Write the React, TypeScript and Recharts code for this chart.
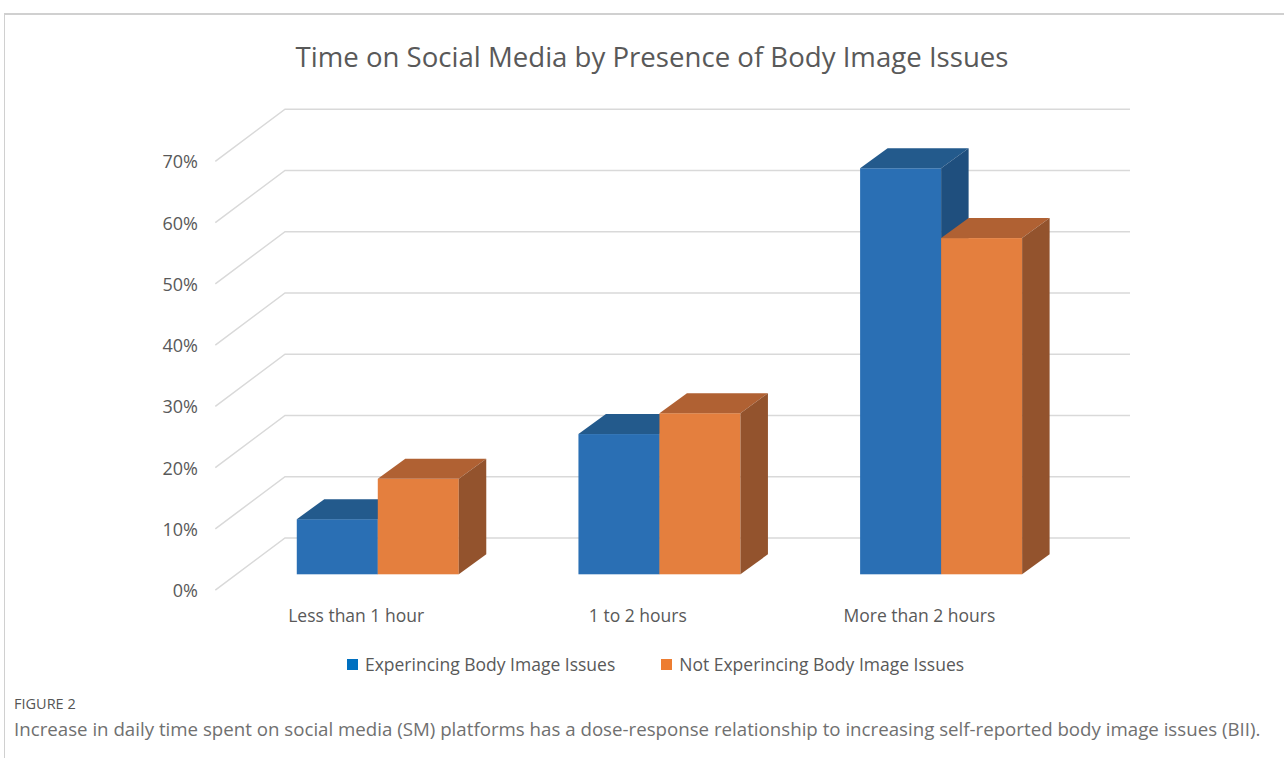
import React from 'react';
import { BarChart, Bar, XAxis, YAxis, CartesianGrid, Legend } from 'recharts';

const categories = ['Less than 1 hour', '1 to 2 hours', 'More than 2 hours'];
const experiencing = [9, 22.9, 66.3];
const notExperiencing = [15.6, 26.3, 54.9];
const yTicks = [0, 10, 20, 30, 40, 50, 60, 70];

const data = categories.map((category, i) => ({
  category,
  experiencing: experiencing[i],
  notExperiencing: notExperiencing[i],
}));

// plot area = the plane of the bar fronts
const W = 1284;
const H = 758;
const PLOT_LEFT = 236.5;
const PLOT_RIGHT = 1081.5;
const PLOT_TOP = 145.6;
const PLOT_BOTTOM = 574.3;
const AXIS_SIZE = 1;

// pseudo-3D offsets (relative to the bar plane)
const FRONT_DX = -21.2;
const FRONT_DY = 15.8;
const BACK_DX = 48.5;
const BACK_DY = -36.4;
const BAR_DX = 27.5;
const BAR_DY = -20;

const TEXT = '#595959';
const FONT = '"Open Sans", sans-serif';

const shade = {
  '#2a6fb4': { top: '#235a8c', side: '#1f4f7e' },
  '#e47f3e': { top: '#b06133', side: '#93532d' },
} as Record<string, { top: string; side: string }>;

const Box3D = (props: any) => {
  const { x, y, width, height, fill } = props;
  if (width == null || height == null) return null;
  const s = shade[fill] || { top: fill, side: fill };
  return (
    <g>
      <rect x={x} y={y} width={width} height={height} fill={fill} />
      <path
        d={`M${x},${y} L${x + BAR_DX},${y + BAR_DY} L${x + width + BAR_DX},${y + BAR_DY} L${x + width},${y} Z`}
        fill={s.top}
      />
      <path
        d={`M${x + width},${y} L${x + width + BAR_DX},${y + BAR_DY} L${x + width + BAR_DX},${y + height + BAR_DY} L${x + width},${y + height} Z`}
        fill={s.side}
      />
    </g>
  );
};

const GridLine = (props: any) => {
  const { x1, x2, y1 } = props;
  return (
    <path
      key={props.key ?? `g-${y1}`}
      d={`M${x1 + FRONT_DX},${y1 + FRONT_DY} L${x1 + BACK_DX},${y1 + BACK_DY} L${x2 + BACK_DX},${y1 + BACK_DY}`}
      stroke="#d9d9d9"
      strokeWidth={1.5}
      fill="none"
    />
  );
};

const YTick = (props: any) => {
  const { y, payload } = props;
  return (
    <text x={PLOT_LEFT - 38.5} y={y + FRONT_DY} textAnchor="end" dominantBaseline="central" fill={TEXT} fontSize={18} fontFamily={FONT}>
      {payload.value}%
    </text>
  );
};

const XTick = (props: any) => {
  const { x, payload } = props;
  return (
    <text x={x + FRONT_DX} y={PLOT_BOTTOM + 41} textAnchor="middle" dominantBaseline="central" fill={TEXT} fontSize={17.5} fontFamily={FONT}>
      {payload.value}
    </text>
  );
};

const legendColors: Record<string, string> = {
  experiencing: '#0070c0',
  notExperiencing: '#ed7d31',
};

const LegendContent = (props: any) => {
  const { payload } = props;
  return (
    <div style={{ display: 'flex', justifyContent: 'center', gap: 46, paddingLeft: 27, fontFamily: FONT, fontSize: 17.5, color: TEXT }}>
      {(payload || []).map((item: any) => (
        <div key={item.value} style={{ display: 'flex', alignItems: 'center' }}>
          <span style={{ width: 11, height: 11, background: legendColors[item.dataKey] || item.color, marginRight: 7 }} />
          <span>{item.value}</span>
        </div>
      ))}
    </div>
  );
};

export default function App() {
  return (
    <div style={{ position: 'absolute', left: 0, top: 0, width: W, height: H, background: '#fff', overflow: 'hidden' }}>
      <div style={{ position: 'absolute', left: 4, top: 13, right: 0, bottom: 0, borderTop: '2px solid #d0d0d0', borderLeft: '1.5px solid #d0d0d0' }} />
      <div style={{ position: 'absolute', left: 0, top: 37, width: 1304, textAlign: 'center', fontFamily: FONT, fontSize: 27.6, color: TEXT }}>
        Time on Social Media by Presence of Body Image Issues
      </div>
      <div style={{ position: 'absolute', left: 0, top: 0 }}>
        <BarChart
          width={W}
          height={H}
          data={data}
          margin={{ top: PLOT_TOP, right: W - PLOT_RIGHT, bottom: H - PLOT_BOTTOM - AXIS_SIZE, left: PLOT_LEFT - AXIS_SIZE }}
          barGap={0}
          barCategoryGap="21.4%"
        >
          <CartesianGrid vertical={false} horizontal={GridLine} />
          <XAxis dataKey="category" height={AXIS_SIZE} axisLine={false} tickLine={false} tick={XTick} interval={0} />
          <YAxis domain={[0, 70]} ticks={yTicks} width={AXIS_SIZE} axisLine={false} tickLine={false} tick={YTick} />
          <Legend
            layout="horizontal"
            verticalAlign="middle"
            align="center"
            wrapperStyle={{ top: 652, left: 0, width: W }}
            content={LegendContent}
          />
          <Bar dataKey="experiencing" name="Experincing Body Image Issues" fill="#2a6fb4" shape={Box3D} isAnimationActive={false} />
          <Bar dataKey="notExperiencing" name="Not Experincing Body Image Issues" fill="#e47f3e" shape={Box3D} isAnimationActive={false} />
        </BarChart>
      </div>
      <div style={{ position: 'absolute', left: 14, top: 694, fontFamily: FONT, fontSize: 14.5, color: '#555' }}>FIGURE 2</div>
      <div style={{ position: 'absolute', left: 14, top: 716, fontFamily: FONT, fontSize: 18.7, color: '#707070', whiteSpace: 'nowrap' }}>
        Increase in daily time spent on social media (SM) platforms has a dose-response relationship to increasing self-reported body image issues (BII).
      </div>
    </div>
  );
}
